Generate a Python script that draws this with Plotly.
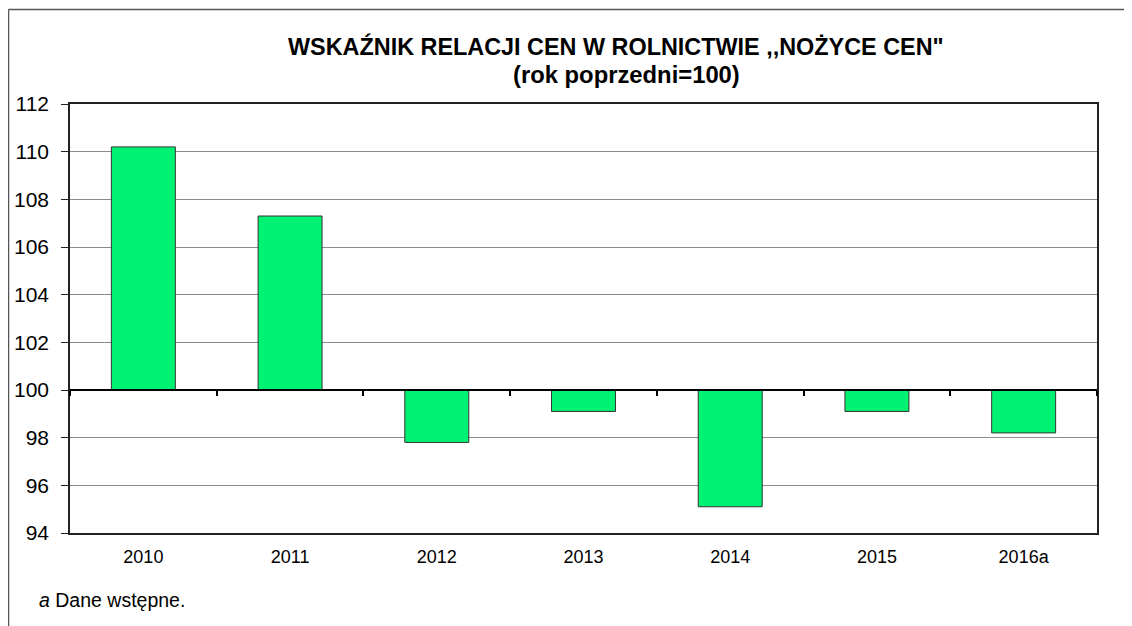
import plotly.graph_objects as go

categories = ["2010", "2011", "2012", "2013", "2014", "2015", "2016a"]
values = [110.2, 107.3, 97.8, 99.1, 95.1, 99.1, 98.2]
base_value = 100
y_ticks = [94, 96, 98, 100, 102, 104, 106, 108, 110, 112]

title_line1 = "WSKAŹNIK RELACJI CEN W ROLNICTWIE ,,NOŻYCE CEN\""
title_line2 = "(rok poprzedni=100)"
footnote = "<i>a</i> Dane wstępne."

# page body adds an 8px offset; figure coords = screenshot coords - 8
OFF = 8
W, H = 1132, 626
L, R, T, B = 70 - OFF, W - (1097 - OFF), 104 - OFF, H - (533 - OFF)
pw, ph = W - L - R, H - T - B
FONT = "Arial, Liberation Sans, sans-serif"

fig = go.Figure()
fig.add_trace(go.Bar(
    x=categories,
    y=[v - base_value for v in values],
    base=base_value,
    marker=dict(color="#00F272", line=dict(color="#333333", width=1)),
    width=0.436,
    hoverinfo="skip",
))
# invisible helper trace for the crossing axis at y=100
fig.add_trace(go.Scatter(x=categories, y=[base_value] * len(categories), xaxis="x2",
                         mode="markers", marker=dict(opacity=0), hoverinfo="skip", showlegend=False))

ymin, ymax = y_ticks[0], y_ticks[-1]
fig.update_layout(
    width=W, height=H,
    margin=dict(l=L, r=R, t=T, b=B, autoexpand=False),
    paper_bgcolor="white", plot_bgcolor="white",
    showlegend=False,
    font=dict(family=FONT, color="black"),
    xaxis=dict(
        type="category", range=[-0.5, 6.5], automargin=False,
        showline=True, linecolor="#222222", linewidth=1.5, mirror=True,
        ticks="", showgrid=False,
        tickfont=dict(size=18, family=FONT),
        ticklabelstandoff=7,
    ),
    xaxis2=dict(
        type="category", overlaying="x", anchor="free", automargin=False,
        position=(base_value - ymin) / (ymax - ymin),
        range=[-0.5, 6.5], showline=True, linecolor="black", linewidth=1.5,
        ticks="outside", tickson="boundaries", ticklen=5, tickcolor="black", tickwidth=1.5,
        showticklabels=False, showgrid=False,
    ),
    yaxis=dict(
        range=[ymin, ymax], tickvals=y_ticks, automargin=False,
        showline=True, linecolor="#222222", linewidth=1.5, mirror=True,
        ticks="outside", ticklen=7, tickcolor="#222222",
        showgrid=True, gridcolor="#8c8c8c", gridwidth=1,
        tickfont=dict(size=21, family=FONT),
        ticklabelstandoff=8,
        zeroline=False,
    ),
)

def px_x(x):
    return (x - OFF - L) / pw

def px_y(y):
    return (H - B - (y - OFF)) / ph

fig.add_annotation(text="<b>" + title_line1 + "</b>", x=px_x(616), y=px_y(47),
                   xref="paper", yref="paper", showarrow=False,
                   xanchor="center", yanchor="middle",
                   font=dict(size=23.4, family=FONT, color="black"))
fig.add_annotation(text="<b>" + title_line2 + "</b>", x=px_x(626), y=px_y(75),
                   xref="paper", yref="paper", showarrow=False,
                   xanchor="center", yanchor="middle",
                   font=dict(size=23.8, family=FONT, color="black"))
fig.add_annotation(text=footnote, x=px_x(37), y=px_y(600),
                   xanchor="left", yanchor="middle",
                   xref="paper", yref="paper", showarrow=False,
                   font=dict(size=19.5, family=FONT, color="black"))

# outer chart border (left and top visible)
fig.add_shape(type="line", xref="paper", yref="paper",
              x0=px_x(8.5), x1=px_x(8.5), y0=px_y(9.5), y1=px_y(660),
              line=dict(color="#555555", width=1.5))
fig.add_shape(type="line", xref="paper", yref="paper",
              x0=px_x(8.5), x1=px_x(1160), y0=px_y(9.5), y1=px_y(9.5),
              line=dict(color="#555555", width=1.5))

fig.write_html("out.html")
